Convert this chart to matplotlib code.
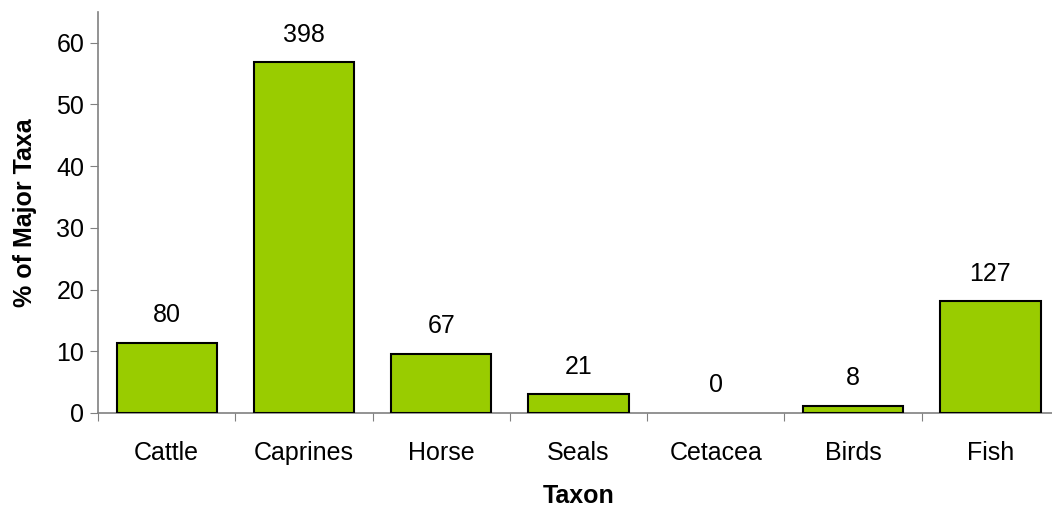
import matplotlib.pyplot as plt
import numpy as np

plt.rcParams["font.family"] = ["Liberation Sans", "DejaVu Sans"]

# data
taxa = ["Cattle", "Caprines", "Horse", "Seals", "Cetacea", "Birds", "Fish"]
percent = [11.4, 56.8, 9.6, 3.0, 0.0, 1.1, 18.1]
counts = ["80", "398", "67", "21", "0", "8", "127"]

fig = plt.figure(figsize=(10.52, 5.11), dpi=100)
ax = fig.add_axes([0.0932, 0.1918, 0.9135, 0.785])

x = np.arange(len(taxa))
edge_w = [1.5 if p > 0 else 0 for p in percent]
ax.bar(x, percent, width=0.73, color="#99CC00", edgecolor="black", linewidth=edge_w, zorder=3)

for xi, yi, lab in zip(x, percent, counts):
    ax.annotate(lab, (xi, yi), xytext=(0, 20), textcoords="offset points",
                ha="center", va="center", fontsize=18)

ax.set_xlim(-0.5, len(taxa) - 0.5)
ax.set_ylim(0, 65)
ax.set_yticks(range(0, 61, 10))
ax.set_xticks(np.arange(-0.5, len(taxa), 1.0))
ax.set_xticklabels([])
ax.set_xticks(x, minor=True)
ax.set_xticklabels(taxa, minor=True)
ax.tick_params(axis="x", which="minor", length=0, pad=20, labelsize=18)
ax.tick_params(axis="x", which="major", length=6, color="#808080")
ax.tick_params(axis="y", length=6, color="#808080", labelsize=18, pad=4)

for s in ["top", "right"]:
    ax.spines[s].set_visible(False)
for s in ["left", "bottom"]:
    ax.spines[s].set_color("#808080")
    ax.spines[s].set_linewidth(1.2)

ax.set_xlabel("Taxon", fontsize=18, fontweight="bold", labelpad=14)
ax.set_ylabel("% of Major Taxa", fontsize=18, fontweight="bold", labelpad=14)

fig.savefig("out.png", dpi=100)
